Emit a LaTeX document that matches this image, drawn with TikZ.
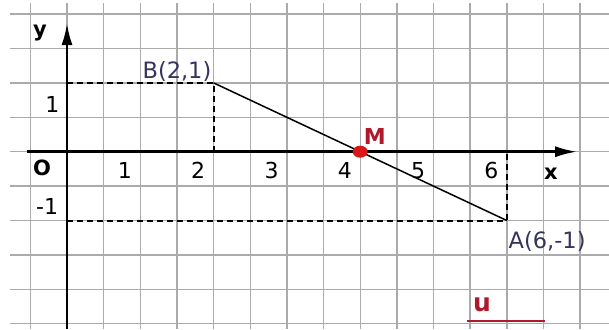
\documentclass[tikz,border=0pt]{standalone}
\usepackage{fontspec}
\setmainfont{DejaVu Sans}
\usetikzlibrary{arrows.meta,calc}
\definecolor{gridgray}{HTML}{ABABAB}
\definecolor{lblblue}{HTML}{34345C}
\definecolor{ptred}{HTML}{D81818}
\definecolor{ured}{HTML}{B0182C}

\begin{document}
\begin{tikzpicture}[x=73.3pt,y=68.8pt,>=Latex,font=\fontsize{20}{22}\selectfont]
\tikzstyle{num}=[inner sep=0pt,font=\fontsize{22}{24}\selectfont]
\tikzstyle{lbl}=[inner sep=0pt,text=lblblue,font=\fontsize{22.5}{24}\selectfont]
\tikzstyle{axlbl}=[inner sep=0pt,font=\bfseries\fontsize{21}{23}\selectfont]
\tikzstyle{axis}=[line width=2.6pt,-{Latex[length=22pt,width=11pt]}]
\tikzstyle{guide}=[line width=2pt,dash pattern=on 6pt off 4pt]
\useasboundingbox (-0.914,-2.577) rectangle (7.394,2.205);
% squared paper
\foreach \x in {-0.5,0,...,7} \draw[gridgray,line width=1.4pt] (\x,2.16) -- (\x,-2.577);
\foreach \y in {-2.5,-2,...,2} \draw[gridgray,line width=1.4pt] (-0.78,\y) -- (7.394,\y);
% points
\coordinate (O) at (0,0); \coordinate (B) at (2,1); \coordinate (A) at (6,-1); \coordinate (M) at (4,0);
\coordinate (B0) at (0,1); \coordinate (Bx) at (2,0); \coordinate (A0) at (0,-1); \coordinate (Ax) at (6,0);
\coordinate (xs) at (-0.545,0); \coordinate (xe) at (6.96,0); \coordinate (ys) at (0,-2.577); \coordinate (ye) at (0,1.87);
\coordinate (us) at (5.46,-2.46); \coordinate (ue) at (6.52,-2.46);
% axes
\draw[axis] (xs) -- (xe); \draw[axis] (ys) -- (ye);
\node[axlbl] (xl) at (6.60,-0.32) {x}; \node[axlbl] (yl) at (-0.37,1.73) {y}; \node[axlbl,font=\bfseries\fontsize{21}{23}\selectfont] (ol) at (-0.34,-0.24) {O};
\foreach \k in {1,...,6} \node[num] (n\k) at (\k-0.21,-0.27) {\k};
\node[num] (y1) at (-0.2,0.68) {1}; \node[num] (ym1) at (-0.27,-0.8) {-1};
% dashed projections and segment
\draw[guide] (B0) -- (B) -- (Bx); \draw[guide] (A0) -- (A) -- (Ax);
\draw[line width=1.5pt] (B) -- (A);
\fill[ptred] (M) ellipse (7.5pt and 6pt);
\node[lbl] (bl) at (1.5,1.17) {B(2,1)}; \node[lbl] (al) at (6.55,-1.31) {A(6,-1)};
\node[inner sep=0pt,text=ured,font=\bfseries\fontsize{22}{24}\selectfont] (ml) at (4.2,0.22) {M};
\node[inner sep=0pt,text=ured,font=\bfseries\fontsize{25}{27}\selectfont] (ul) at (5.66,-2.23) {u};
\draw[ured,line width=1.8pt] (us) -- (ue);
\end{tikzpicture}
\end{document}
